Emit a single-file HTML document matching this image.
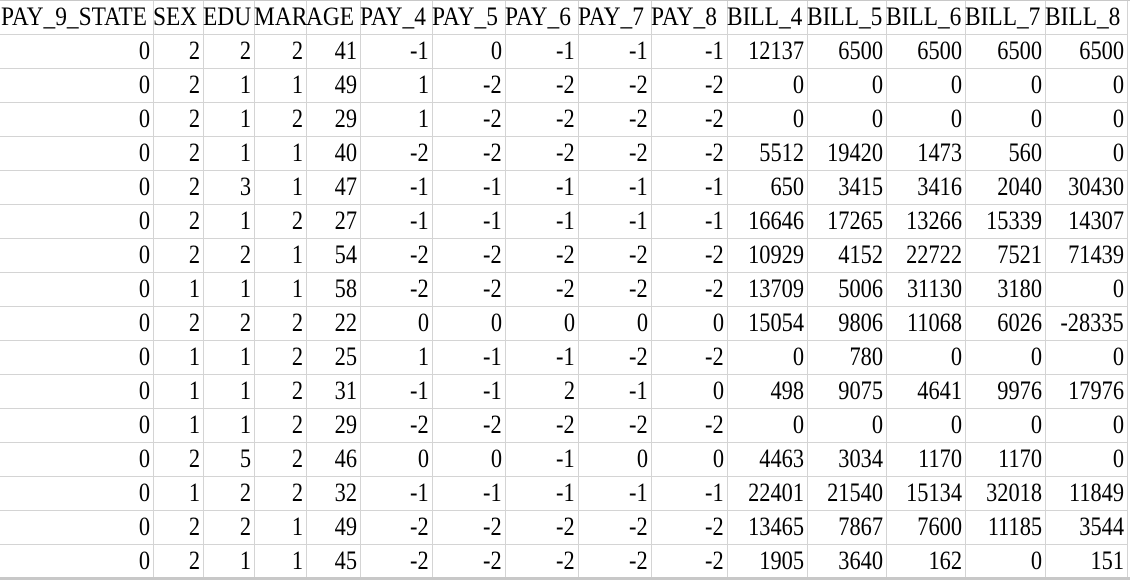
<!DOCTYPE html>
<html><head><meta charset="utf-8"><style>
html,body{margin:0;padding:0;background:#fff;width:1130px;height:580px;overflow:hidden}
#sheet{position:absolute;left:0;top:0;width:1130px;height:580px}
.c{position:absolute;box-sizing:border-box;border-right:1px solid #d4d4d4;border-bottom:1px solid #d4d4d4;font-family:"Liberation Serif","Times New Roman","Noto Serif CJK SC","DejaVu Serif",serif;font-size:26px;line-height:34px;color:#000;white-space:nowrap;overflow:visible;text-align:right;padding-right:3px}
.c span{display:inline-block;transform:scaleX(0.86);transform-origin:right center}
.h{text-align:left;padding-left:1px;padding-right:0}
.h span{transform:scaleX(0.9);transform-origin:left center}
</style></head><body>
<div id="sheet"></div>
<script>
const headers=["PAY_9_STATE","SEX","EDU","MAR","AGE","PAY_4","PAY_5","PAY_6","PAY_7","PAY_8","BILL_4","BILL_5","BILL_6","BILL_7","BILL_8"];
const rows=[
[0,2,2,2,41,-1,0,-1,-1,-1,12137,6500,6500,6500,6500],
[0,2,1,1,49,1,-2,-2,-2,-2,0,0,0,0,0],
[0,2,1,2,29,1,-2,-2,-2,-2,0,0,0,0,0],
[0,2,1,1,40,-2,-2,-2,-2,-2,5512,19420,1473,560,0],
[0,2,3,1,47,-1,-1,-1,-1,-1,650,3415,3416,2040,30430],
[0,2,1,2,27,-1,-1,-1,-1,-1,16646,17265,13266,15339,14307],
[0,2,2,1,54,-2,-2,-2,-2,-2,10929,4152,22722,7521,71439],
[0,1,1,1,58,-2,-2,-2,-2,-2,13709,5006,31130,3180,0],
[0,2,2,2,22,0,0,0,0,0,15054,9806,11068,6026,-28335],
[0,1,1,2,25,1,-1,-1,-2,-2,0,780,0,0,0],
[0,1,1,2,31,-1,-1,2,-1,0,498,9075,4641,9976,17976],
[0,1,1,2,29,-2,-2,-2,-2,-2,0,0,0,0,0],
[0,2,5,2,46,0,0,-1,0,0,4463,3034,1170,1170,0],
[0,1,2,2,32,-1,-1,-1,-1,-1,22401,21540,15134,32018,11849],
[0,2,2,1,49,-2,-2,-2,-2,-2,13465,7867,7600,11185,3544],
[0,2,1,1,45,-2,-2,-2,-2,-2,1905,3640,162,0,151]
];
const colEdges=[0,153,203,254,306,360,432,505,578,651,727,807,886,965,1045,1127];
const rowH=34, top0=0;
const sheet=document.getElementById('sheet');
function cell(x,y,w,h,txt,cls,name){
  const d=document.createElement('div');
  d.className='c '+cls;
  d.style.left=x+'px';d.style.top=y+'px';d.style.width=w+'px';d.style.height=h+'px';
  const s=document.createElement('span');
  s.textContent=txt;
  d.appendChild(s);
  
  
  sheet.appendChild(d);
}
headers.forEach((h,i)=>{
  cell(colEdges[i]-(i?1:0),top0,colEdges[i+1]-colEdges[i]+(i?1:0)+1,rowH+1,h,'h','header-'+h.toLowerCase().replace(/_/g,'-'));
});
rows.forEach((r,ri)=>{
  r.forEach((v,i)=>{
    cell(colEdges[i]-(i?1:0),top0+rowH*(ri+1),colEdges[i+1]-colEdges[i]+(i?1:0)+1,rowH+1,String(v),'','cell-r'+(ri+1)+'-'+headers[i].toLowerCase().replace(/_/g,'-'));
  });
});
const tb=document.createElement('div');
tb.style.cssText='position:absolute;left:0;top:0;width:1130px;height:1px;background:#c8c8c8';


sheet.appendChild(tb);
const bb=document.createElement('div');
bb.style.cssText='position:absolute;left:0;top:577px;width:1130px;height:3px;background:#c8c8c8';


sheet.appendChild(bb);
</script>
</body></html>
